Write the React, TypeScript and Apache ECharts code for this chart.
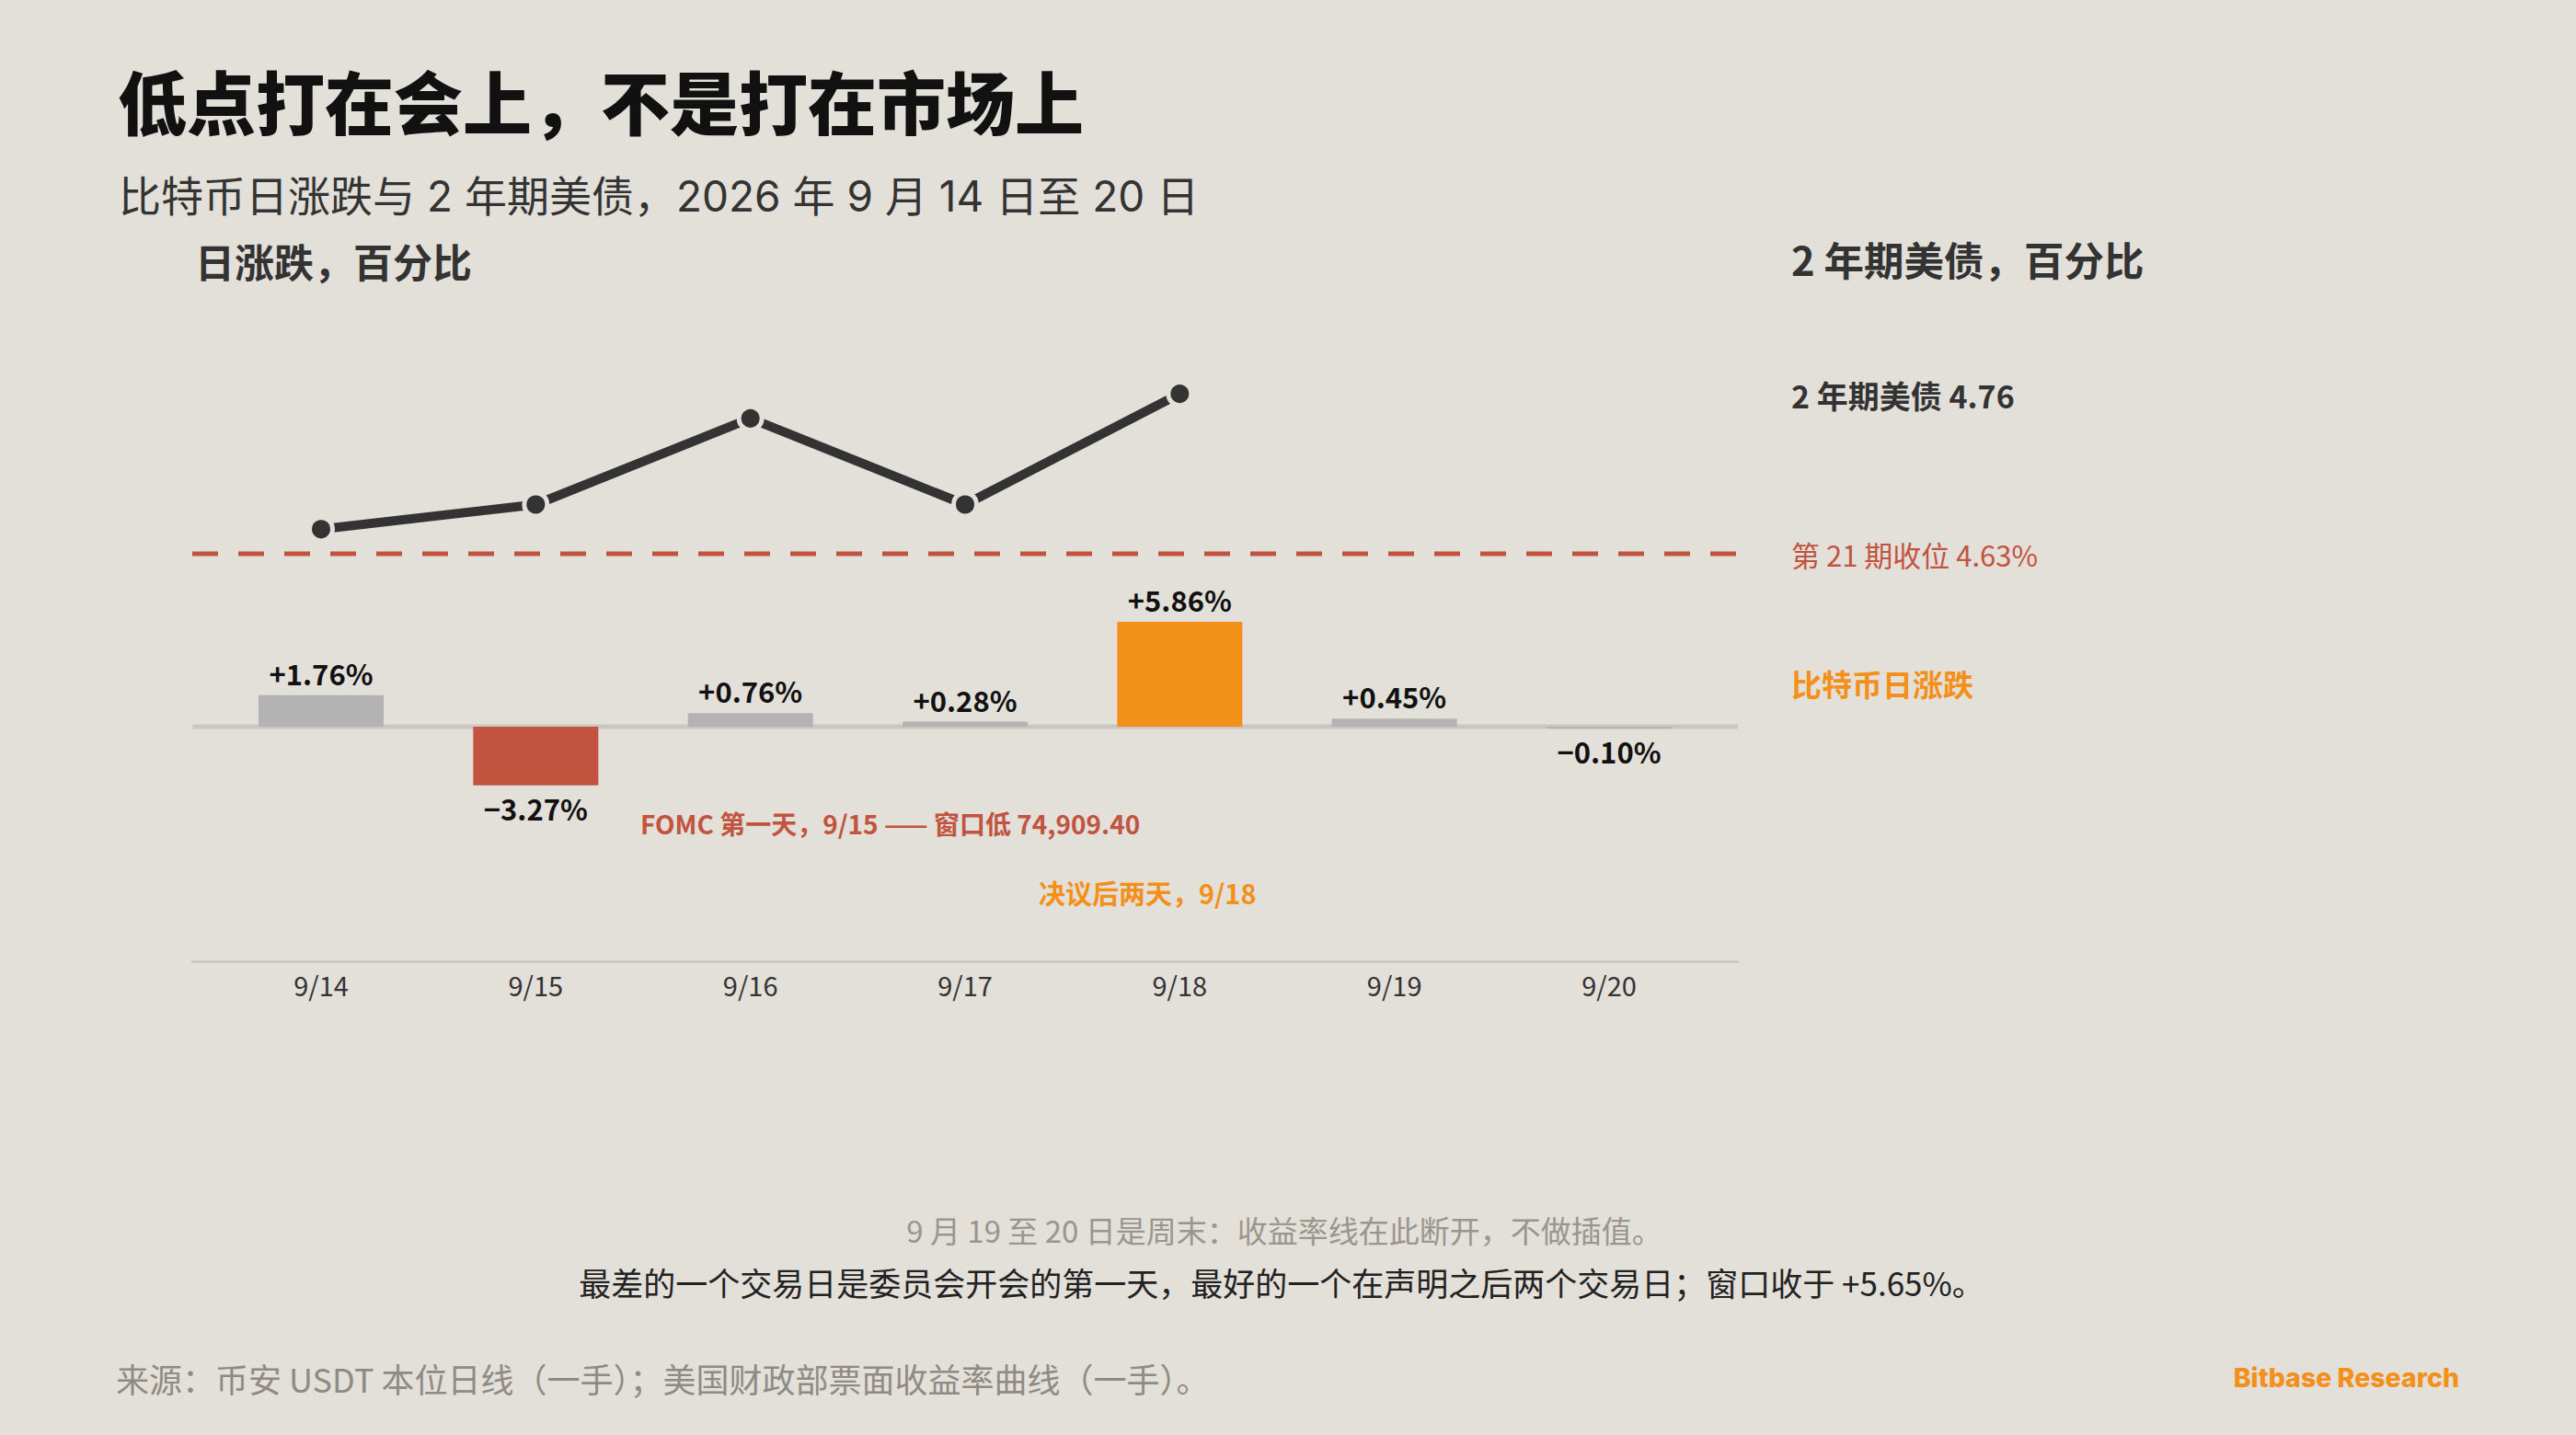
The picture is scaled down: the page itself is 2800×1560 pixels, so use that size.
import React, { useEffect, useRef } from "react";
import * as echarts from "echarts";

// ---- data ----
const days = ["9/14", "9/15", "9/16", "9/17", "9/18", "9/19", "9/20"];
const btcChange = [1.76, -3.27, 0.76, 0.28, 5.86, 0.45, -0.1];
// 2-year Treasury yield, trading days only (9/19–9/20 weekend: line breaks)
const treasury2y = [4.65, 4.67, 4.74, 4.67, 4.76];
const refYield = 4.63;
const windowLow = "74,909.40";
const windowClose = "+5.65%";

const FONT = '"Noto Sans CJK SC", "Noto Sans", sans-serif';
const FONT_MIX = 'Inter, "Noto Sans CJK SC", sans-serif';
const BG = "#e3dfd9";
const RED = "#c1533f";
const ORANGE = "#f39019";
const GRAY_BAR = "#b3b3b3";
const AXIS = "#cbc6bf";
const X_MIN = -0.6;
const X_MAX = 6.6;

const fmtPct = (v: number) => (v >= 0 ? "+" : "\u2212") + Math.abs(v).toFixed(2) + "%";

function txt(
  text: string,
  x: number,
  y: number,
  size: number,
  color: string,
  weight: any = "normal",
  align: string = "left",
  family: string = FONT
) {
  return {
    type: "text",
    x,
    y,
    silent: true,
    style: {
      text,
      fill: color,
      fontSize: size,
      fontWeight: weight,
      fontFamily: family,
      textAlign: align,
      verticalAlign: "middle",
    },
  };
}

export default function App() {
  const ref = useRef<HTMLDivElement>(null);

  useEffect(() => {
    document.body.style.margin = "0";
    document.body.style.background = BG;
    const chart = echarts.init(ref.current!, null, { renderer: "svg" });

    const minIdx = btcChange.indexOf(Math.min(...btcChange));
    const maxIdx = btcChange.indexOf(Math.max(...btcChange));

    const option: any = {
      animation: false,
      backgroundColor: BG,
      grid: [
        { left: 209, top: 374.5, width: 1680, height: 267.7 },
        { left: 209, top: 653.85, width: 1680, height: 391 },
      ],
      xAxis: [
        { type: "value", gridIndex: 0, min: X_MIN, max: X_MAX, show: false },
        {
          type: "value",
          gridIndex: 1,
          min: X_MIN,
          max: X_MAX,
          axisLine: { show: true, onZero: false, lineStyle: { color: AXIS, width: 2.5 } },
          axisTick: { show: false },
          splitLine: { show: false },
          axisLabel: {
            customValues: days.map((_, i) => i),
            formatter: (v: number) => days[Math.round(v)] ?? "",
            fontSize: 29,
            color: "#333",
            margin: 11,
            fontFamily: FONT,
          },
        },
      ],
      yAxis: [
        { type: "value", gridIndex: 0, min: 4.6, max: 4.8, show: false },
        { type: "value", gridIndex: 1, min: -13.1, max: 7, show: false },
      ],
      series: [
        {
          // zero line
          type: "line",
          xAxisIndex: 1,
          yAxisIndex: 1,
          data: [
            [X_MIN, 0],
            [X_MAX, 0],
          ],
          symbol: "none",
          silent: true,
          lineStyle: { color: AXIS, width: 5 },
          z: 1,
        },
        {
          type: "bar",
          xAxisIndex: 1,
          yAxisIndex: 1,
          barWidth: 136,
          z: 3,
          data: btcChange.map((v, i) => ({
            value: [i, v],
            itemStyle: { color: i === minIdx ? RED : i === maxIdx ? ORANGE : GRAY_BAR },
            label: { position: v < 0 ? "bottom" : "top" },
          })),
          label: {
            show: true,
            formatter: (p: any) => fmtPct(p.value[1]),
            fontSize: 31,
            fontWeight: "bold",
            color: "#111",
            distance: 9,
            fontFamily: FONT,
          },
        },
        {
          // reference yield (dashed)
          type: "line",
          xAxisIndex: 0,
          yAxisIndex: 0,
          data: [
            [X_MIN, refYield],
            [X_MAX, refYield],
          ],
          symbol: "none",
          silent: true,
          lineStyle: { color: RED, width: 5, type: [28, 22] },
          z: 2,
        },
        {
          type: "line",
          xAxisIndex: 0,
          yAxisIndex: 0,
          data: treasury2y.map((v, i) => [i, v]),
          lineStyle: { color: "#333", width: 10 },
          symbol: "circle",
          symbolSize: 25,
          itemStyle: { color: "#333", borderColor: BG, borderWidth: 5 },
          z: 5,
        },
      ],
      graphic: [
        txt("低点打在会上，不是打在市场上", 128, 108, 75, "#111", 900),
        txt("比特币日涨跌与 2 年期美债，2026 年 9 月 14 日至 20 日", 129, 213, 46, "#333", "normal", "left", FONT_MIX),
        txt("日涨跌，百分比", 212, 283, 43, "#333", "bold"),
        txt("2 年期美债，百分比", 1947, 281, 43.5, "#333", "bold"),
        txt("2 年期美债 " + treasury2y[treasury2y.length - 1].toFixed(2), 1947, 429, 34, "#333", "bold"),
        txt("第 21 期收位 " + refYield.toFixed(2) + "%", 1947, 602, 31, RED),
        txt("比特币日涨跌", 1947, 743, 33, ORANGE, "bold"),
        txt("FOMC 第一天，" + days[minIdx] + " —— 窗口低 " + windowLow, 696, 895, 28, RED, "bold"),
        txt("决议后两天，" + days[maxIdx], 1129, 970, 29, ORANGE, "bold"),
        txt("9 月 19 至 20 日是周末：收益率线在此断开，不做插值。", 1396, 1337, 33, "#9a958f", "normal", "center"),
        txt(
          "最差的一个交易日是委员会开会的第一天，最好的一个在声明之后两个交易日；窗口收于 " + windowClose + "。",
          1393,
          1393,
          35,
          "#222",
          "normal",
          "center"
        ),
        txt("来源：币安 USDT 本位日线（一手）；美国财政部票面收益率曲线（一手）。", 126, 1498, 36, "#8f8a84"),
        {
          type: "text",
          x: 2673,
          y: 1497,
          silent: true,
          style: {
            text: "Bitbase Research",
            fill: ORANGE,
            fontSize: 28.5,
            fontWeight: 800,
            fontFamily: "Inter, sans-serif",
            textAlign: "right",
            verticalAlign: "middle",
          },
        },
      ],
    };

    chart.setOption(option);
    return () => chart.dispose();
  }, []);

  return <div ref={ref} style={{ width: 2800, height: 1560 }} />;
}
